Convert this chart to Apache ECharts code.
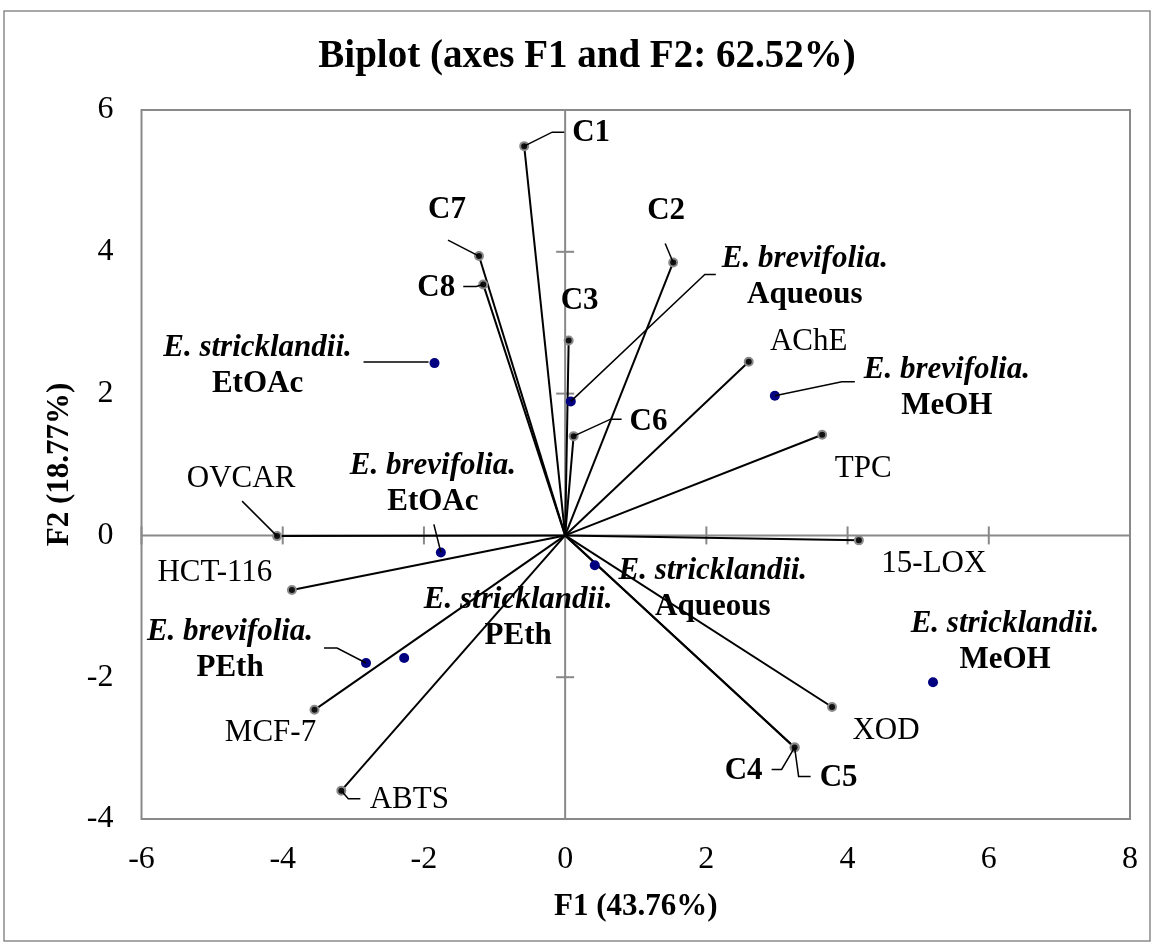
<!DOCTYPE html>
<html><head><meta charset="utf-8">
<script src="https://cdn.jsdelivr.net/npm/echarts@6/dist/echarts.min.js"></script>
<style>html,body{margin:0;padding:0;background:#fff;} #c{width:1154px;height:947px;}</style>
</head><body><div id="c"></div>
<script>
// ---------- data ----------
const xTicks = [-6, -4, -2, 0, 2, 4, 6, 8];
const yTicks = [-4, -2, 0, 2, 4, 6];

const varNames = ['C1', 'C2', 'C3', 'C4', 'C5', 'C6', 'C7', 'C8', 'AChE', 'TPC', '15-LOX', 'XOD', 'ABTS', 'MCF-7', 'HCT-116', 'OVCAR'];
const varF1 = [-0.58, 1.53, 0.05, 3.25, 3.25, 0.12, -1.22, -1.16, 2.60, 3.64, 4.16, 3.78, -3.17, -3.55, -3.87, -4.08];
const varF2 = [5.49, 3.85, 2.75, -2.99, -2.99, 1.40, 3.94, 3.54, 2.45, 1.42, -0.07, -2.42, -3.60, -2.46, -0.77, -0.01];

const obsSpecies = ['E. brevifolia.', 'E. brevifolia.', 'E. brevifolia.', 'E. brevifolia.', 'E. stricklandii.', 'E. stricklandii.', 'E. stricklandii.', 'E. stricklandii.'];
const obsExtract = ['Aqueous', 'MeOH', 'EtOAc', 'PEth', 'Aqueous', 'MeOH', 'EtOAc', 'PEth'];
const obsF1 = [0.08, 2.97, -1.76, -2.82, 0.42, 5.21, -1.85, -2.28];
const obsF2 = [1.89, 1.97, -0.24, -1.80, -0.42, -2.07, 2.43, -1.73];

const titleText = 'Biplot (axes F1 and F2: 62.52%)';
const xName = 'F1 (43.76%)';
const yName = 'F2 (18.77%)';

// ---------- label placement (pixel offsets from each point) ----------
const varLayout = {
  'C1': {dx: 48, dy: -13, align: 'left', bold: true, leader: [[0,0],[28,-14],[40,-14]]},
  'C2': {dx: -7, dy: -51, bold: true, leader: [[0,0],[-8,-19]]},
  'C3': {dx: 11, dy: -39, bold: true},
  'C4': {dx: -51, dy: 24, bold: true, leader: [[0,0],[-13,22],[-23,22]]},
  'C5': {dx: 44, dy: 31, bold: true, leader: [[0,0],[4,29],[16,29]]},
  'C6': {dx: 56, dy: -14, align: 'left', bold: true, leader: [[0,0],[37,-17],[48,-17]]},
  'C7': {dx: -32, dy: -46, bold: true, leader: [[0,0],[-31,-16]]},
  'C8': {dx: -47, dy: 4, bold: true, leader: [[0,0],[-7,2],[-20,2]]},
  'AChE': {dx: 60, dy: -20},
  'TPC': {dx: 41, dy: 34},
  '15-LOX': {dx: 75, dy: 23},
  'XOD': {dx: 54, dy: 24},
  'ABTS': {dx: 68, dy: 9, leader: [[0,0],[7,8],[19,8]]},
  'MCF-7': {dx: -44, dy: 23},
  'HCT-116': {dx: -77, dy: -17},
  'OVCAR': {dx: -36, dy: -57, leader: [[0,0],[-35,-35]]}
};
const obsLayout = [
  {dx: 234, dy: -124, leader: [[0,0],[134,-127],[145,-127]]},
  {dx: 172, dy: -8, leader: [[0,0],[67,-14],[80,-14]]},
  {dx: -8, dy: -68, leader: [[0,0],[-7,-28]]},
  {dx: -136, dy: -13, leader: [[0,0],[-29,-15],[-42,-15]]},
  {dx: 118, dy: 24},
  {dx: 72, dy: -40},
  {dx: -177, dy: 3, leader: [[-6,-1],[-71,-1]]},
  {dx: 114, dy: -40}
];

const FONT = '"Liberation Serif", "Times New Roman", serif';
const LINE_H = 36;

const varData = varF1.map((x, i) => [x, varF2[i]]);
const obsData = obsF1.map((x, i) => [x, obsF2[i]]);

function leaderEl(p, pts) {
  return {type: 'polyline', shape: {points: pts.map(q => [p[0] + q[0], p[1] + q[1]])},
          style: {stroke: '#000', lineWidth: 1.5, fill: 'none'}};
}

const chart = echarts.init(document.getElementById('c'), null, {renderer: 'canvas'});
chart.setOption({
  animation: false,
  backgroundColor: '#fff',
  title: {
    text: titleText, left: 587, top: 37, textAlign: 'center', padding: 0,
    textStyle: {fontFamily: FONT, fontSize: 39, fontWeight: 'bold', color: '#000'}
  },
  graphic: [{
    type: 'rect', shape: {x: 4, y: 11, width: 1146, height: 930},
    style: {fill: 'none', stroke: '#8c8c8c', lineWidth: 1.5}, silent: true, z: -10
  }],
  grid: {left: 141.5, right: 24, top: 110, bottom: 128, show: true,
         borderColor: '#898989', borderWidth: 2, backgroundColor: 'transparent'},
  xAxis: {
    type: 'value', min: -6, max: 8, interval: 2,
    axisLine: {show: false}, axisTick: {show: false}, splitLine: {show: false},
    axisLabel: {fontFamily: FONT, fontSize: 32, color: '#000', margin: 25},
    name: xName, nameLocation: 'middle', nameGap: 72,
    nameTextStyle: {fontFamily: FONT, fontSize: 31, fontWeight: 'bold', color: '#000'}
  },
  yAxis: {
    type: 'value', min: -4, max: 6, interval: 2,
    axisLine: {show: false}, axisTick: {show: false}, splitLine: {show: false},
    axisLabel: {fontFamily: FONT, fontSize: 32, color: '#000', margin: 28},
    name: yName, nameLocation: 'middle', nameGap: 61,
    nameTextStyle: {fontFamily: FONT, fontSize: 31, fontWeight: 'bold', color: '#000'}
  },
  series: [
    { // axes crossing at zero, with cross ticks
      type: 'custom', z: 1, silent: true, data: [[0, 0]],
      renderItem: function (params, api) {
        const ch = [];
        const s = {stroke: '#898989', lineWidth: 2};
        const xa = api.coord([xTicks[0], 0]), xb = api.coord([xTicks[xTicks.length - 1], 0]);
        const ya = api.coord([0, yTicks[0]]), yb = api.coord([0, yTicks[yTicks.length - 1]]);
        ch.push({type: 'line', shape: {x1: xa[0], y1: xa[1], x2: xb[0], y2: xb[1]}, style: s});
        ch.push({type: 'line', shape: {x1: ya[0], y1: ya[1], x2: yb[0], y2: yb[1]}, style: s});
        xTicks.forEach(t => { if (t === 0) return; const p = api.coord([t, 0]);
          ch.push({type: 'line', shape: {x1: p[0], y1: p[1] - 9, x2: p[0], y2: p[1] + 9}, style: s}); });
        yTicks.forEach(t => { if (t === 0) return; const p = api.coord([0, t]);
          ch.push({type: 'line', shape: {x1: p[0] - 9, y1: p[1], x2: p[0] + 9, y2: p[1]}, style: s}); });
        return {type: 'group', children: ch};
      }
    },
    { // variable vectors from origin
      type: 'custom', z: 2, silent: true, data: varData,
      renderItem: function (params, api) {
        const o = api.coord([0, 0]);
        const p = api.coord([api.value(0), api.value(1)]);
        return {type: 'line', shape: {x1: o[0], y1: o[1], x2: p[0], y2: p[1]},
                style: {stroke: '#000', lineWidth: 2}};
      }
    },
    { // variable points
      type: 'scatter', z: 3, data: varData, symbol: 'circle', symbolSize: 8,
      itemStyle: {color: '#111', borderColor: '#8a8a8a', borderWidth: 2, opacity: 1}
    },
    { // observation points
      type: 'scatter', z: 3, data: obsData, symbol: 'circle', symbolSize: 10,
      itemStyle: {color: '#000080', opacity: 1}
    },
    { // variable labels
      type: 'custom', z: 4, silent: true, data: varData,
      renderItem: function (params, api) {
        const i = params.dataIndex;
        const p = api.coord([api.value(0), api.value(1)]);
        const L = varLayout[varNames[i]];
        const ch = [];
        if (L.leader) ch.push(leaderEl(p, L.leader));
        ch.push({type: 'text', style: {text: varNames[i], x: p[0] + L.dx, y: p[1] + L.dy,
          align: L.align || 'center', verticalAlign: 'middle',
          font: (L.bold ? 'bold ' : '') + '31px ' + FONT, fill: '#000'}});
        return {type: 'group', children: ch};
      }
    },
    { // observation labels
      type: 'custom', z: 4, silent: true, data: obsData,
      renderItem: function (params, api) {
        const i = params.dataIndex;
        const p = api.coord([api.value(0), api.value(1)]);
        const L = obsLayout[i];
        const ch = [];
        if (L.leader) ch.push(leaderEl(p, L.leader));
        const cx = p[0] + L.dx, cy = p[1] + L.dy;
        ch.push({type: 'text', style: {text: obsSpecies[i], x: cx, y: cy - LINE_H / 2,
          align: 'center', verticalAlign: 'middle', font: 'italic bold 31px ' + FONT, fill: '#000'}});
        ch.push({type: 'text', style: {text: obsExtract[i], x: cx, y: cy + LINE_H / 2,
          align: 'center', verticalAlign: 'middle', font: 'bold 31px ' + FONT, fill: '#000'}});
        return {type: 'group', children: ch};
      }
    }
  ]
});
</script>
</body></html>
